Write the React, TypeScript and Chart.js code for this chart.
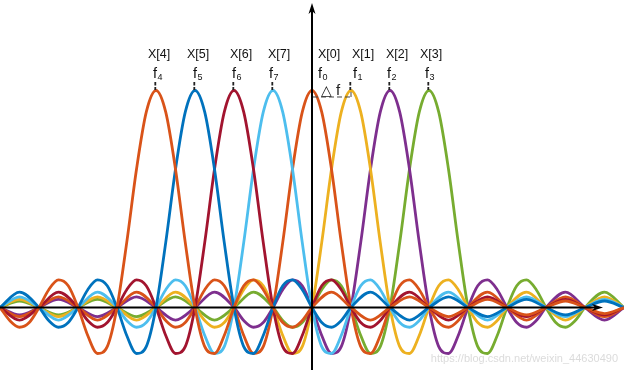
import React, { useEffect, useRef } from "react";
import { Chart, registerables } from "chart.js";

Chart.register(...registerables);

// Sub-carriers, in the order they appear from left to right
const carrierLabels = ["X[4]", "X[5]", "X[6]", "X[7]", "X[0]", "X[1]", "X[2]", "X[3]"];
const carrierSubscripts = ["4", "5", "6", "7", "0", "1", "2", "3"];
const carrierCenters = [-4, -3, -2, -1, 0, 1, 2, 3]; // in units of Δf
const carrierColors = [
  "#D95319",
  "#0072BD",
  "#A2142F",
  "#4DBEEE",
  "#D95319",
  "#EDB120",
  "#7E2F8E",
  "#77AC30",
];

// Pulse profile (offset from the centre in Δf, height relative to peak)
const pulseOffsets = [
  0, 0.25, 0.5, 0.75, 1, 1.25, 1.5, 1.75, 2, 2.25, 2.5, 2.75, 3, 3.25, 3.5, 3.75, 4,
  4.5, 5, 5.5, 6, 6.5, 7, 7.5, 8, 8.5, 9, 9.5, 10, 10.5, 11, 11.5, 12,
];
const pulseValues = [
  1, 0.9, 0.637, 0.3, 0, -0.18, -0.212, -0.129, 0, 0.1, 0.127, 0.082, 0, -0.069, -0.091, -0.06, 0,
  0.071, 0, -0.058, 0, 0.049, 0, -0.042, 0, 0.037, 0, -0.034, 0, 0.03, 0, -0.028, 0,
];

const xMin = -8;
const xMax = 8;
const yMin = -0.288;
const yMax = 1.417;

// label placement tweaks (pixels relative to the peak)
const labelDx = [-8, -8, -4, -5, 6, 1, -4, -9];
const subDx = [-3, -2, -2, -4, 6, 2, -3, -4];

function buildPoints(center: number) {
  const pts: { x: number; y: number }[] = [];
  for (let i = pulseOffsets.length - 1; i > 0; i--) {
    pts.push({ x: center - pulseOffsets[i], y: pulseValues[i] });
  }
  for (let i = 0; i < pulseOffsets.length; i++) {
    pts.push({ x: center + pulseOffsets[i], y: pulseValues[i] });
  }
  return pts.filter((p) => p.x >= xMin && p.x <= xMax);
}

const overlayPlugin = {
  id: "ofdmOverlay",
  afterDatasetsDraw(chart: any) {
    const { ctx, chartArea, scales } = chart;
    const xs = scales.x;
    const ys = scales.y;
    const x0 = xs.getPixelForValue(0);
    const y0 = ys.getPixelForValue(0);
    const yPeak = ys.getPixelForValue(1);
    ctx.save();

    // axes
    ctx.strokeStyle = "#000";
    ctx.fillStyle = "#000";
    ctx.lineWidth = 2;
    const arrowTipX = chartArea.right - 21;
    ctx.beginPath();
    ctx.moveTo(chartArea.left, y0);
    ctx.lineTo(arrowTipX - 6, y0);
    ctx.stroke();
    ctx.beginPath();
    ctx.moveTo(arrowTipX, y0);
    ctx.lineTo(arrowTipX - 11, y0 - 3.5);
    ctx.lineTo(arrowTipX - 8, y0);
    ctx.lineTo(arrowTipX - 11, y0 + 3.5);
    ctx.closePath();
    ctx.fill();

    const arrowTipY = chartArea.top + 3;
    ctx.beginPath();
    ctx.moveTo(x0, chartArea.bottom);
    ctx.lineTo(x0, arrowTipY + 6);
    ctx.stroke();
    ctx.beginPath();
    ctx.moveTo(x0, arrowTipY);
    ctx.lineTo(x0 - 3.5, arrowTipY + 11);
    ctx.lineTo(x0, arrowTipY + 8);
    ctx.lineTo(x0 + 3.5, arrowTipY + 11);
    ctx.closePath();
    ctx.fill();

    // labels
    ctx.textBaseline = "alphabetic";
    ctx.textAlign = "left";
    carrierCenters.forEach((c, i) => {
      const px = xs.getPixelForValue(c);
      ctx.fillStyle = "#111";
      ctx.font = '12.5px "Liberation Sans", Arial, sans-serif';
      ctx.fillText(carrierLabels[i], px + labelDx[i], 58);
      ctx.font = '14.5px "Liberation Sans", Arial, sans-serif';
      const fx = px + subDx[i];
      ctx.fillText("f", fx, 77.5);
      const fw = ctx.measureText("f").width;
      ctx.font = '9px "Liberation Sans", Arial, sans-serif';
      ctx.fillText(carrierSubscripts[i], fx + fw + 0.5, 79.5);

      if (c !== 0) {
        ctx.strokeStyle = "#222";
        ctx.lineWidth = 1.8;
        ctx.setLineDash([3.5, 1.5]);
        ctx.beginPath();
        ctx.moveTo(px - 0.7, yPeak - 8.5);
        ctx.lineTo(px - 0.7, yPeak - 0.5);
        ctx.stroke();
        ctx.setLineDash([]);
      }
    });

    // Δf marker
    const x1 = xs.getPixelForValue(1);
    const yDash = yPeak + 6.5;
    ctx.strokeStyle = "#444";
    ctx.lineWidth = 1;
    ctx.setLineDash([5, 3]);
    ctx.beginPath();
    ctx.moveTo(x0 + 1, yDash);
    ctx.lineTo(x1, yDash);
    ctx.stroke();
    ctx.setLineDash([]);
    ctx.beginPath();
    ctx.moveTo(x1, yDash);
    ctx.lineTo(x1, yPeak + 1.5);
    ctx.stroke();
    ctx.fillStyle = "#222";
    ctx.font = '14px "DejaVu Sans", sans-serif';
    ctx.fillText("△", x0 + 9, 94.5);
    ctx.font = '15px "Liberation Sans", Arial, sans-serif';
    ctx.fillText("f", x0 + 24, 94.5);

    // watermark
    ctx.fillStyle = "rgba(190,190,190,0.55)";
    ctx.font = '11px "Liberation Sans", Arial, sans-serif';
    ctx.textAlign = "right";
    ctx.fillText("https://blog.csdn.net/weixin_44630490", chartArea.right - 6, 362);

    ctx.restore();
  },
};

export default function App() {
  const canvasRef = useRef<HTMLCanvasElement | null>(null);

  useEffect(() => {
    document.body.style.margin = "0";
    const canvas = canvasRef.current;
    if (!canvas) return;
    const chart = new Chart(canvas, {
      type: "line",
      data: {
        datasets: carrierCenters.map((c, i) => ({
          label: carrierLabels[i],
          data: buildPoints(c),
          borderColor: carrierColors[i],
          backgroundColor: carrierColors[i],
          borderWidth: 2.8,
          pointRadius: 0,
          fill: false,
          cubicInterpolationMode: "monotone" as const,
        })),
      },
      options: {
        responsive: false,
        animation: false,
        events: [],
        layout: { padding: 0 },
        plugins: {
          legend: { display: false },
          tooltip: { enabled: false },
          title: { display: false },
        },
        scales: {
          x: { type: "linear", min: xMin, max: xMax, display: false },
          y: { type: "linear", min: yMin, max: yMax, display: false },
        },
      },
      plugins: [overlayPlugin],
    });
    return () => chart.destroy();
  }, []);

  return (
    <div style={{ width: 624, height: 370, background: "#fff" }}>
      <canvas ref={canvasRef} width={624} height={370} style={{ display: "block" }} />
    </div>
  );
}
